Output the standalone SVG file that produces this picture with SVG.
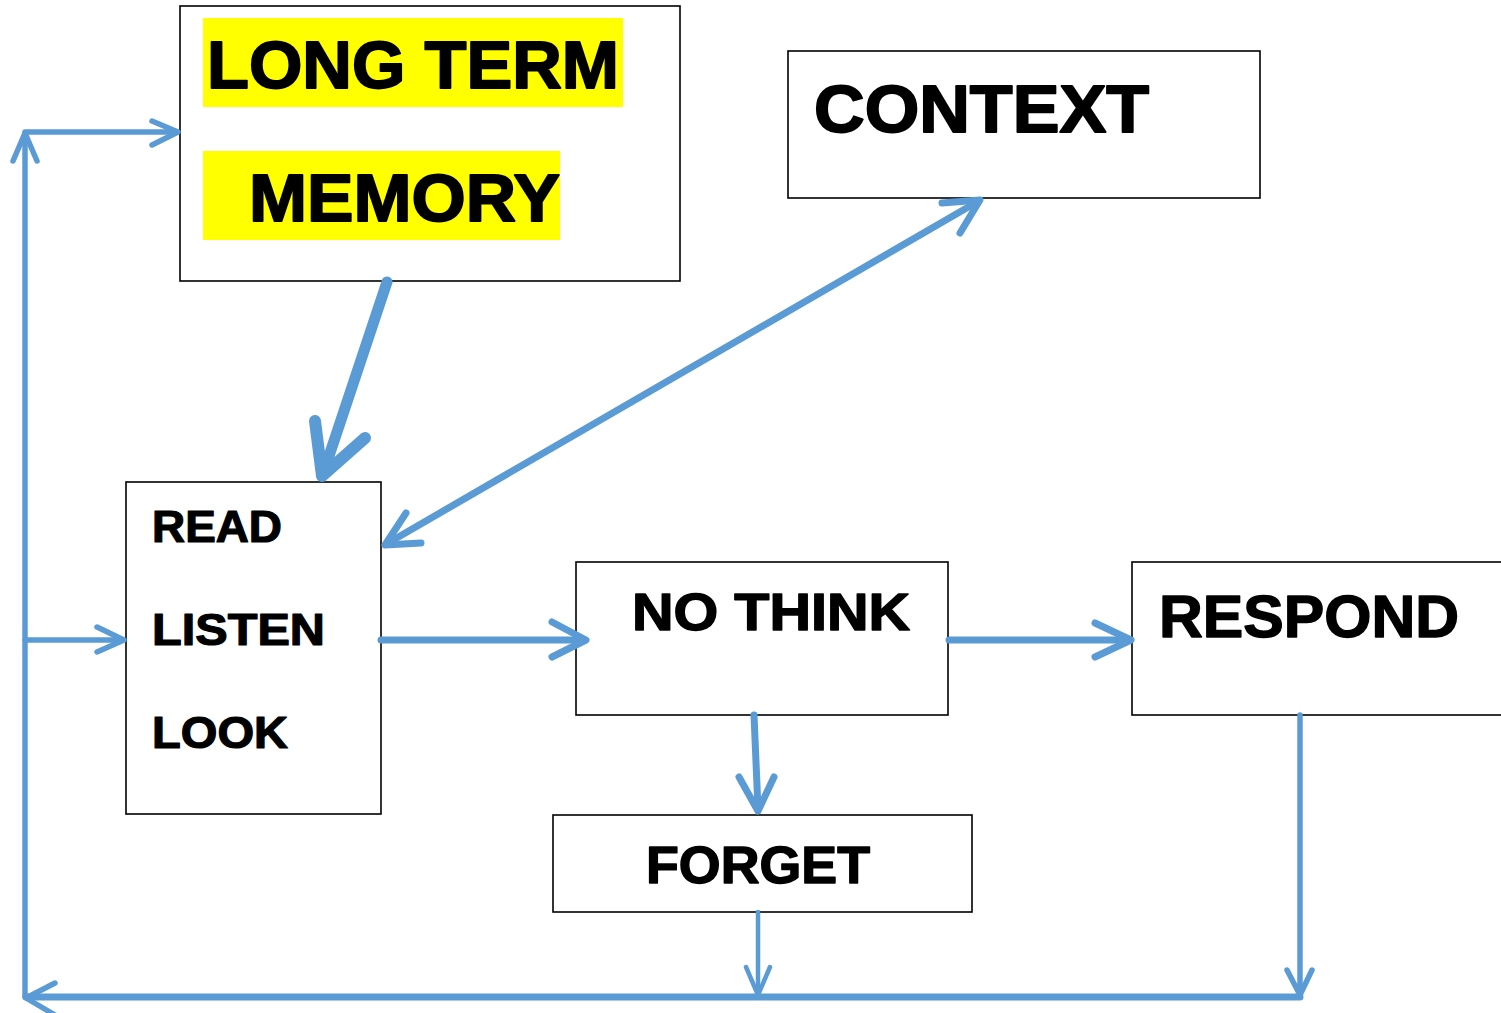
<svg xmlns="http://www.w3.org/2000/svg" width="1501" height="1013" viewBox="0 0 1501 1013">
<style>
.box{fill:#fff;stroke:#000;stroke-width:1.6}
.hl{fill:#ffff00}
.t{font-family:"Liberation Sans",Arial,sans-serif;font-weight:bold;fill:#000;stroke:#000;stroke-linejoin:round}
.tl{stroke-width:1.8}
.tm{stroke-width:1.4}
.ts{stroke-width:1.2}
.c{fill:none;stroke:#5b9bd5;stroke-linecap:round;stroke-linejoin:round}
.w4{stroke-width:4.5}
.w5{stroke-width:5.5}
.w6{stroke-width:7}
.w10{stroke-width:11}
.w12{stroke-width:12}
</style>
<rect width="1501" height="1013" fill="#fff"/>
<g id="node-ltm">
<rect class="box" x="180" y="6" width="500" height="275"/>
<rect class="hl" x="203" y="18" width="420" height="89"/>
<rect class="hl" x="203" y="151" width="357" height="89"/>
<text class="t tl" x="207" y="88" font-size="66" textLength="412" lengthAdjust="spacingAndGlyphs">LONG TERM</text>
<text class="t tl" x="249" y="221" font-size="66" textLength="311" lengthAdjust="spacingAndGlyphs">MEMORY</text>
</g>
<g id="node-context">
<rect class="box" x="788" y="51" width="472" height="147"/>
<text class="t tl" x="814" y="132" font-size="66" textLength="335" lengthAdjust="spacingAndGlyphs">CONTEXT</text>
</g>
<g id="node-input">
<rect class="box" x="126" y="482" width="255" height="332"/>
<text class="t ts" x="152" y="542" font-size="44" textLength="130" lengthAdjust="spacingAndGlyphs">READ</text>
<text class="t ts" x="152" y="645" font-size="44" textLength="173" lengthAdjust="spacingAndGlyphs">LISTEN</text>
<text class="t ts" x="152" y="748" font-size="44" textLength="136" lengthAdjust="spacingAndGlyphs">LOOK</text>
</g>
<g id="node-nothink">
<rect class="box" x="576" y="562" width="372" height="153"/>
<text class="t tm" x="632" y="630" font-size="52" textLength="278" lengthAdjust="spacingAndGlyphs">NO THINK</text>
</g>
<g id="node-respond">
<rect class="box" x="1132" y="562" width="380" height="153"/>
<text class="t tm" x="1159" y="637" font-size="59" textLength="300" lengthAdjust="spacingAndGlyphs">RESPOND</text>
</g>
<g id="node-forget">
<rect class="box" x="553" y="815" width="419" height="97"/>
<text class="t tm" x="646" y="883" font-size="52" textLength="224" lengthAdjust="spacingAndGlyphs">FORGET</text>
</g>
<g id="connectors">
<line class="c w10" x1="387" y1="282" x2="323" y2="474"/>
<polyline class="c w12" points="315,421 322,476 365,438"/>
<line class="c w6" x1="388" y1="543" x2="977" y2="202"/>
<polyline class="c w6" points="406,513 385,545 421,543"/>
<polyline class="c w6" points="942,203 980,200 960,233"/>
<line class="c w6" x1="381" y1="640" x2="584" y2="640"/>
<polyline class="c w6" points="552,622 586,640 552,657"/>
<line class="c w6" x1="949" y1="640" x2="1129" y2="640"/>
<polyline class="c w6" points="1095,623 1131,640 1095,657"/>
<line class="c w6" x1="754" y1="715" x2="758" y2="809"/>
<polyline class="c w6" points="739,777 758,811 774,777"/>
<line class="c w4" x1="758" y1="912" x2="758" y2="994"/>
<polyline class="c w4" points="746,967 758,995 770,967"/>
<line class="c w5" x1="1300" y1="715" x2="1300" y2="993"/>
<polyline class="c w5" points="1287,970 1300,995 1312,970"/>
<line class="c w6" x1="1300" y1="997" x2="26" y2="997"/>
<polyline class="c w5" points="55,983 26,998 55,1015"/>
<line class="c w5" x1="25" y1="997" x2="25" y2="134"/>
<polyline class="c w5" points="13,161 25,133 37,161"/>
<line class="c w5" x1="25" y1="132" x2="176" y2="132"/>
<polyline class="c w5" points="152,121 178,132 152,145"/>
<line class="c w5" x1="25" y1="640" x2="122" y2="640"/>
<polyline class="c w5" points="97,627 124,640 97,652"/>
</g>
</svg>
